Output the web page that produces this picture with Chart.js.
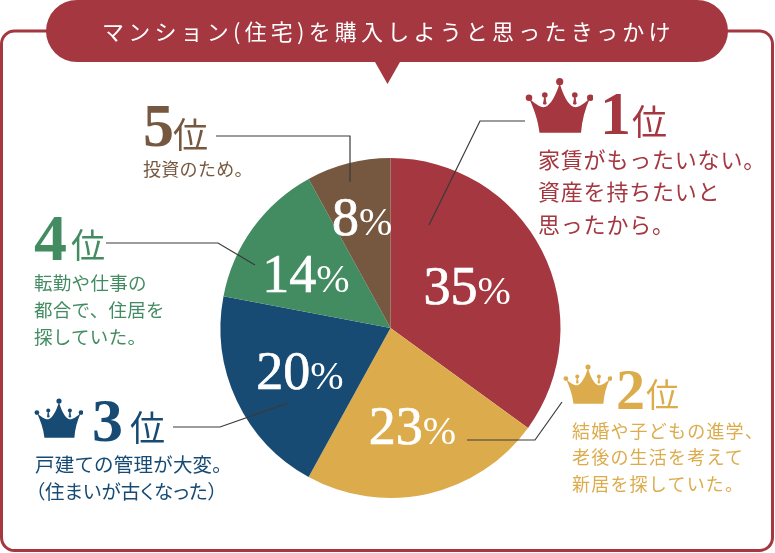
<!DOCTYPE html>
<html lang="ja"><head><meta charset="utf-8">
<script src="https://cdn.jsdelivr.net/npm/chart.js@4"></script>
<style>
html,body{margin:0;padding:0;background:#fff;width:775px;height:553px;overflow:hidden}
#wrap{position:relative;width:775px;height:553px;font-family:"Noto Sans CJK JP",sans-serif}
canvas,svg{position:absolute;left:0;top:0}
.t{position:absolute;white-space:pre;font-weight:400}
.n{font-family:"Liberation Serif",serif;font-weight:700}
.p{font-feature-settings:"palt"}
</style></head><body>
<div id="wrap">
<svg width="775" height="553" id="bg">
 <rect x="1.5" y="31" width="771" height="519.5" rx="13" fill="#fff" stroke="#A43740" stroke-width="3"/>
 <path d="M77,0H697A31,31 0 0 1 697,62H400L387.5,84L375,62H77A31,31 0 0 1 77,0Z" fill="#A43740"/>
</svg>
<canvas id="c" width="775" height="553"></canvas>
<svg width="775" height="553" id="fg">
 <defs><symbol id="crown" viewBox="525 78 68 56">
  <path d="M539.5,132.7H581C582,120 585,109 590,98C584,104 578,108 574,107C568,105 563,95 559.7,83C556,95 551,105 545,107C541,108 535,104 529,98C534,109 538,120 539.5,132.7Z" fill="currentColor"/>
  <circle cx="529" cy="97.7" r="3.3" fill="currentColor"/><circle cx="590.3" cy="97.7" r="3.3" fill="currentColor"/>
  <circle cx="559.7" cy="81.7" r="3.6" fill="currentColor"/>
  <circle cx="544.8" cy="95" r="2.8" fill="currentColor"/><circle cx="574.8" cy="95" r="2.8" fill="currentColor"/>
  <path d="M543.5,104L544.8,96L546.1,104ZM573.5,104L574.8,96L576.1,104Z" fill="currentColor" stroke="currentColor"/>
 </symbol></defs>
 <use href="#crown" x="525" y="78" width="68" height="56" color="#A43740"/>
 <use href="#crown" x="563" y="364" width="49" height="41" color="#DCAC4C"/>
 <use href="#crown" x="34" y="398" width="49" height="41" color="#174B74"/>
 <g fill="none" stroke="#3a3a3a" stroke-width="1.2">
  <path d="M525,121H480L429,225"/>
  <path d="M562,402L535,440H467"/>
  <path d="M173,427H220L288,403"/>
  <path d="M106,243H218L255,265"/>
  <path d="M216,136H350V182"/>
 </g>
</svg>
<div id="texts"></div>
</div>
<script>
const categories=["家賃がもったいない。資産を持ちたいと思ったから。","結婚や子どもの進学、老後の生活を考えて新居を探していた。","戸建ての管理が大変。（住まいが古くなった）","転勤や仕事の都合で、住居を探していた。","投資のため。"];
const values=[35,23,20,14,8];
const sliceColors=["#A43740","#DCAC4C","#174B74","#438C62","#75583F"];
const labelRadii=[86,100,100,102,114];
const labelShiftX=[0,0,0,-2,0];
const labelShiftY=[-3,0,0,6,-1];
const titleText="マンション(住宅)を購入しようと思ったきっかけ";

const pctLabels={id:"pctLabels",afterDatasetsDraw(chart){
 const ctx=chart.ctx,arcs=chart.getDatasetMeta(0).data;
 ctx.save();ctx.fillStyle="#fff";ctx.strokeStyle="#fff";ctx.lineWidth=0.7;ctx.textBaseline="alphabetic";
 arcs.forEach((a,i)=>{
  const mid=(a.startAngle+a.endAngle)/2,x=a.x+Math.cos(mid)*labelRadii[i]+labelShiftX[i],y=a.y+Math.sin(mid)*labelRadii[i]+labelShiftY[i];
  const num=String(values[i]);
  ctx.font='54px "Liberation Serif",serif';const w1=ctx.measureText(num).width;
  ctx.font='40px "Liberation Serif",serif';const w2=ctx.measureText("%").width;
  const sx=x-(w1+w2)/2,by=y+18;
  ctx.textAlign="left";
  ctx.font='54px "Liberation Serif",serif';ctx.fillText(num,sx,by);ctx.strokeText(num,sx,by);
  ctx.font='40px "Liberation Serif",serif';ctx.fillText("%",sx+w1,by);
 });ctx.restore();}};

new Chart(document.getElementById("c"),{type:"pie",
 data:{labels:categories,datasets:[{data:values,backgroundColor:sliceColors,borderWidth:0}]},
 options:{responsive:false,animation:false,radius:170,layout:{padding:{left:6,top:103}},
  plugins:{legend:{display:false},tooltip:{enabled:false},title:{display:false}}},
 plugins:[pctLabels]});

const T=document.getElementById("texts");
function put(txt,x,y,size,color,extra){const d=document.createElement("div");d.className="t"+(extra&&extra.cls?" "+extra.cls:"");
 d.textContent=txt;d.style.cssText=`left:${x}px;top:${y-size}px;font-size:${size}px;line-height:${size*2}px;color:${color};letter-spacing:${(extra&&extra.ls)||0}px`;T.appendChild(d);}
put(titleText,102,30,22,"#fff",{ls:4.2});
const ranks=[
 {d:"1",x:600,cy:113,ds:62,kx:632,ky:120,ks:35,c:sliceColors[0],tx:538,lines:["家賃がもったいない。","資産を持ちたいと","思ったから。"],ys:[158,190,223],fs:22,ls:0.8},
 {d:"2",x:616,cy:390,ds:58,kx:646,ky:393,ks:33,c:sliceColors[1],tx:572,lines:["結婚や子どもの進学、","老後の生活を考えて","新居を探していた。"],ys:[430,456,483],fs:18,ls:1.2},
 {d:"3",x:92,cy:420,ds:62,kx:130,ky:426,ks:35,c:sliceColors[2],tx:35,lines:["戸建ての管理が大変。","（住まいが古くなった）"],ys:[463,490],fs:19.5,ls:0.2},
 {d:"4",x:34,cy:238,ds:66,kx:71,ky:244,ks:34,c:sliceColors[3],tx:34,lines:["転勤や仕事の","都合で、住居を","探していた。"],ys:[282,309,336],fs:18.5,ls:0.3},
 {d:"5",x:143,cy:125,ds:62,kx:173,ky:133,ks:35,c:sliceColors[4],tx:143,lines:["投資のため。"],ys:[168],fs:18,ls:0.3}];
ranks.forEach(r=>{put(r.d,r.x,r.cy,r.ds,r.c,{cls:"n"});put("位",r.kx,r.ky,r.ks,r.c);
 r.lines.forEach((l,i)=>put(l,r.tx,r.ys[i],r.fs,r.c,{ls:r.ls,cls:l[0]==="（"?"p":""}));});
</script>
</body></html>
